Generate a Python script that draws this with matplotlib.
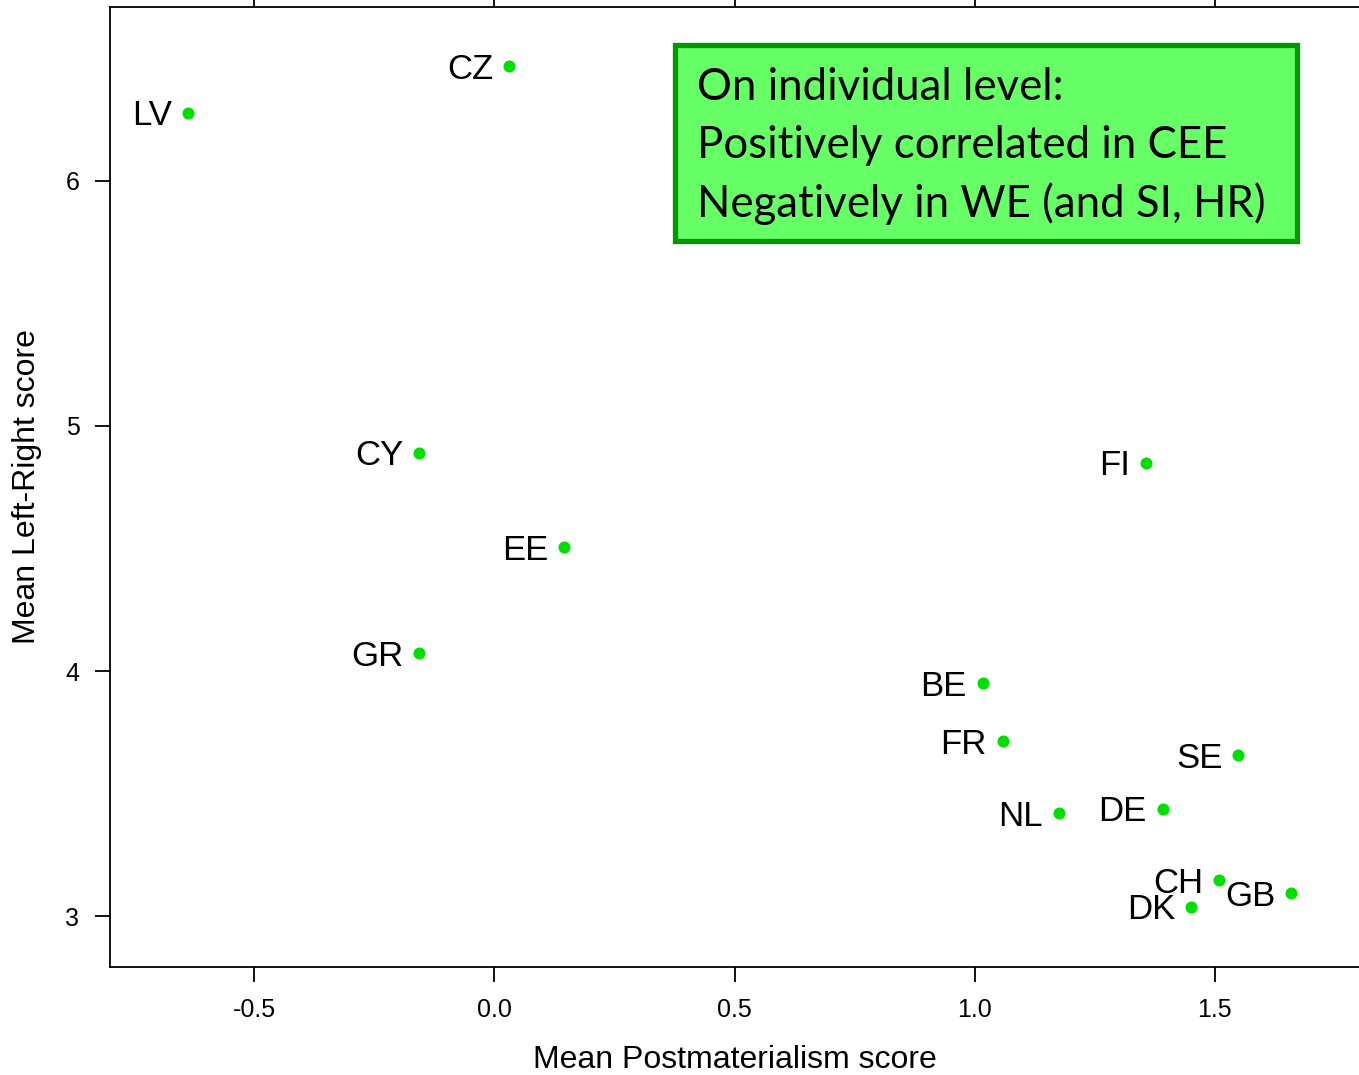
# Mean Left-Right score vs mean Postmaterialism score by country
import matplotlib
matplotlib.use('Agg')
import matplotlib.pyplot as plt
from matplotlib.patches import Rectangle

countries = ['LV', 'CZ', 'CY', 'EE', 'GR', 'FI', 'BE', 'FR', 'SE', 'NL', 'DE', 'CH', 'GB', 'DK']
postmat = [-0.638, 0.031, -0.156, 0.146, -0.156, 1.356, 1.017, 1.058, 1.549, 1.175, 1.391, 1.509, 1.659, 1.451]
left_right = [6.278, 6.469, 4.890, 4.506, 4.073, 4.849, 3.951, 3.714, 3.657, 3.420, 3.437, 3.147, 3.094, 3.037]

x_ticks = [-0.5, 0.0, 0.5, 1.0, 1.5]
x_tick_labels = ['-0.5', '0.0', '0.5', '1.0', '1.5']
y_ticks = [3, 4, 5, 6]

note_lines = ['On individual level:',
              'Positively correlated in CEE',
              'Negatively in WE (and SI, HR)']

plt.rcParams['font.family'] = ['Liberation Sans', 'DejaVu Sans']

fig = plt.figure(figsize=(13.59, 10.75), dpi=100)
ax = fig.add_axes([110 / 1359, 1 - 967 / 1075, 1 - 110 / 1359, (967 - 7) / 1075])

ax.scatter(postmat, left_right, s=75, color='#00e000', zorder=3, linewidths=0)
for name, x, y in zip(countries, postmat, left_right):
    ax.annotate(name, (x, y), xytext=(-16, -3), textcoords='offset pixels',
                ha='right', va='center', fontsize=25, color='black')

ax.set_xlim(-0.8, 1.8)
ax.set_ylim(2.792, 6.71)
ax.set_xticks(x_ticks)
ax.set_xticklabels(x_tick_labels)
ax.set_yticks(y_ticks)
ax.tick_params(axis='both', direction='out', length=11, width=1.3, labelsize=18, pad=11)
ax.tick_params(axis='x', top=True)
for side in ['left', 'bottom', 'top']:
    ax.spines[side].set_linewidth(1.3)
ax.spines['right'].set_visible(False)

ax.set_xlabel('Mean Postmaterialism score', fontsize=23, labelpad=17)
ax.set_ylabel('Mean Left-Right score', fontsize=23, labelpad=17)

# Annotation box
ax.add_patch(Rectangle((0.4524, 0.7563), 0.498, 0.2041, transform=ax.transAxes,
                       facecolor='#66ff66', edgecolor='#009900', linewidth=3.8,
                       zorder=4, clip_on=False))
for line, yb in zip(note_lines, [0.9031, 0.8427, 0.7813]):
    ax.text(0.470, yb, line, transform=ax.transAxes, fontsize=31.5,
            family=['Lato', 'DejaVu Sans'], va='baseline', ha='left', zorder=5)

fig.savefig('out.png', dpi=100)
